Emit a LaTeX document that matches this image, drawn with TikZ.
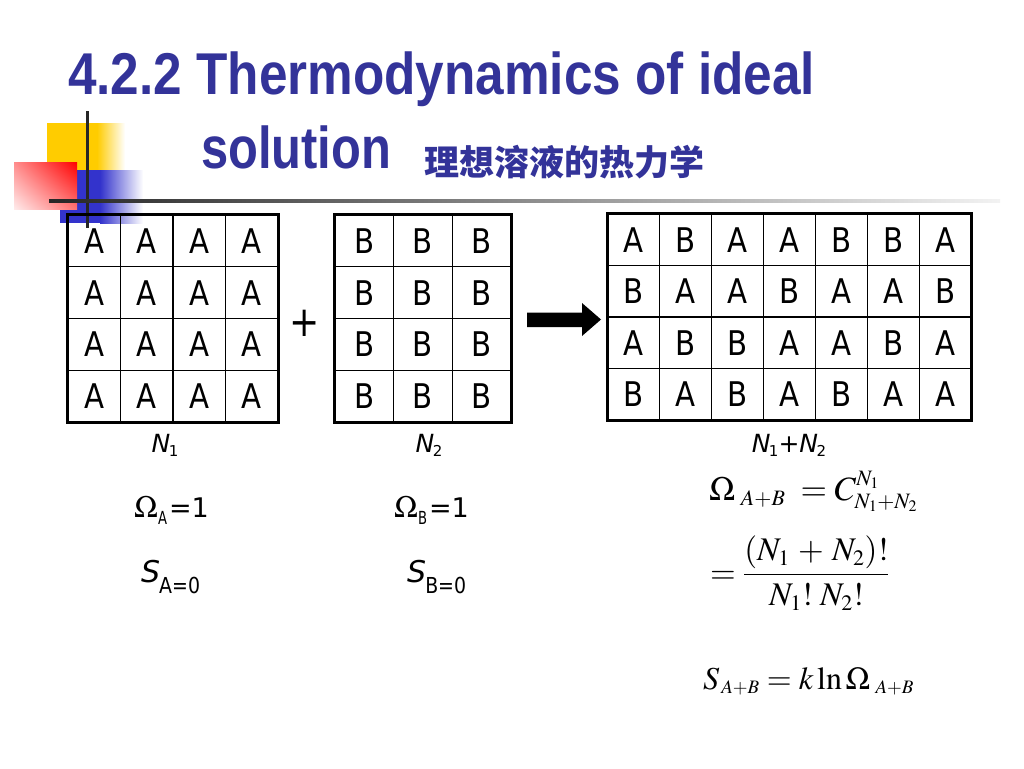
\documentclass[tikz,border=0pt]{standalone}
\usepackage{mathptmx}
\usepackage[no-math]{fontspec}
\usepackage{graphicx}
\usetikzlibrary{shadings}
\newfontfamily\titlefont{Liberation Sans}
\newfontfamily\tah{DejaVu Sans}[FakeStretch=0.86]
\newfontfamily\tahw{DejaVu Sans}
\newfontfamily\cjk{Noto Sans CJK SC}
\definecolor{titleblue}{RGB}{51,51,153}
\definecolor{decoyellow}{RGB}{255,204,0}
\definecolor{decoblue}{RGB}{51,51,204}
\DeclareMathSizes{34}{34}{22}{16}
\DeclareMathSizes{33}{33}{22}{16}
\DeclareMathSizes{32}{32}{19}{14}
\DeclareMathSizes{31}{31}{21}{15}
\newcommand{\Nsub}[1]{\textit{N}\kern-1.5pt\raisebox{-4pt}{\fontsize{15}{15}\selectfont #1}}
\begin{document}
\begin{tikzpicture}[x=1pt,y=-1pt,
  cellbox/.style={draw=black, line width=1.2pt, inner sep=0pt, minimum height=51.75pt,
    font=\tah\fontsize{34}{34}\selectfont},
  outerbox/.style={draw=black, line width=2.8pt},
  lab/.style={inner sep=0pt, anchor=base, font=\tahw\fontsize{25}{25}\selectfont},
  formula/.style={inner sep=0pt, anchor=base west},
  titletext/.style={inner sep=0pt, anchor=base west, text=titleblue}
]
\useasboundingbox (0,0) rectangle (1024,768);
% decoration
\fill[decoyellow] (47,123) rectangle (97,170);
\shade[left color=decoyellow, right color=white] (97,123) rectangle (125,170);
\fill[decoblue] (60,170) rectangle (100,223);
\shade[left color=decoblue, right color=white] (100,170) rectangle (143,223);
\shade[upper right=red, lower left=red!8, upper left=red!45, lower right=red!55] (14,162) rectangle (77,209);
\draw[line width=3pt, black!85] (87,111) -- (87,228);
\shade[left color=black!85, right color=black!5] (49,199.3) rectangle (1000,202.3);
% title
\node[titletext, font=\titlefont\bfseries\fontsize{59}{60}\selectfont] (t1) at (68,94)
  {\resizebox{747pt}{\height}{4.2.2 Thermodynamics of ideal}};
\node[titletext, font=\titlefont\bfseries\fontsize{59}{60}\selectfont] (t2) at (201,168)
  {\resizebox{190pt}{\height}{solution}};
\node[inner sep=0pt, anchor=west, text=titleblue, font=\cjk\bfseries\fontsize{35}{35}\selectfont] (t3) at (424,162)
  {理想溶液的热力学};
% grid 1
\foreach \r in {1,...,4} \foreach \c in {1,...,4}
  \node[cellbox, minimum width=52.5pt] (g1-\r-\c) at ({68+52.5*(\c-0.5)},{215+51.75*(\r-0.5)}) {A};
\draw[outerbox] (g1-1-1.north west) rectangle (g1-4-4.south east);
% grid 2
\foreach \r in {1,...,4} \foreach \c in {1,...,3}
  \node[cellbox, minimum width=58.67pt] (g2-\r-\c) at ({335+58.67*(\c-0.5)},{215+51.75*(\r-0.5)}) {B};
\draw[outerbox] (g2-1-1.north west) rectangle (g2-4-3.south east);
% grid 3
\foreach \row [count=\r] in {{A,B,A,A,B,B,A},{B,A,A,B,A,A,B},{A,B,B,A,A,B,A},{B,A,B,A,B,A,A}}
  \foreach \L [count=\c] in \row
    \node[cellbox, minimum width=51.86pt, minimum height=51.5pt] (g3-\r-\c) at ({608+51.86*(\c-0.5)},{214+51.5*(\r-0.5)}) {\L};
\draw[outerbox] (g3-1-1.north west) rectangle (g3-4-7.south east);
% plus and arrow
\node[inner sep=0pt, font=\tah\fontsize{42}{42}\selectfont] (plus) at (305,323) {+};
\fill[black] (527,312.5) -- (582,312.5) -- (582,303) -- (601,319.5) -- (582,336) -- (582,327) -- (527,327) -- cycle;
% labels
\node[lab] (n1) at (165,452) {\Nsub{1}};
\node[lab] (n2) at (429,452) {\Nsub{2}};
\node[lab] (n12) at (789,452) {\Nsub{1}+\Nsub{2}};
\node[formula] (omA) at (134,517) {{\fontsize{31}{31}\selectfont$\Omega$}\raisebox{-7pt}{\tah\fontsize{18}{18}\selectfont\scalebox{0.85}[1]{A}}\kern2pt{\tahw\fontsize{27}{27}\selectfont=1}};
\node[formula] (omB) at (394,517) {{\fontsize{31}{31}\selectfont$\Omega$}\raisebox{-7pt}{\tah\fontsize{18}{18}\selectfont\scalebox{0.85}[1]{B}}\kern2pt{\tahw\fontsize{27}{27}\selectfont=1}};
\node[formula] (sA) at (141,582) {\tahw\fontsize{30}{30}\selectfont\itshape S\upshape\kern-1pt\raisebox{-11pt}{\tah\fontsize{22}{22}\selectfont A=0}};
\node[formula] (sB) at (407,582) {\tahw\fontsize{30}{30}\selectfont\itshape S\upshape\kern-1pt\raisebox{-11pt}{\tah\fontsize{22}{22}\selectfont B=0}};
% formulas
\node[formula] (f1) at (709,500) {\fontsize{34}{34}\selectfont$\Omega\mkern3mu{}_{A+B}\mkern4mu=C^{N_1}_{N_1+N_2}$};
\node[formula] (f2) at (710,583) {\fontsize{33}{33}\selectfont$\displaystyle=\frac{(N_1\mskip2mu+\mskip2mu N_2)!}{N_1!\mkern4mu N_2!}$};
\node[formula] (f3) at (703,689) {\fontsize{32}{32}\selectfont$S_{\,A+B}=k\ln\Omega\mkern3mu{}_{A+B}$};
\end{tikzpicture}
\end{document}
